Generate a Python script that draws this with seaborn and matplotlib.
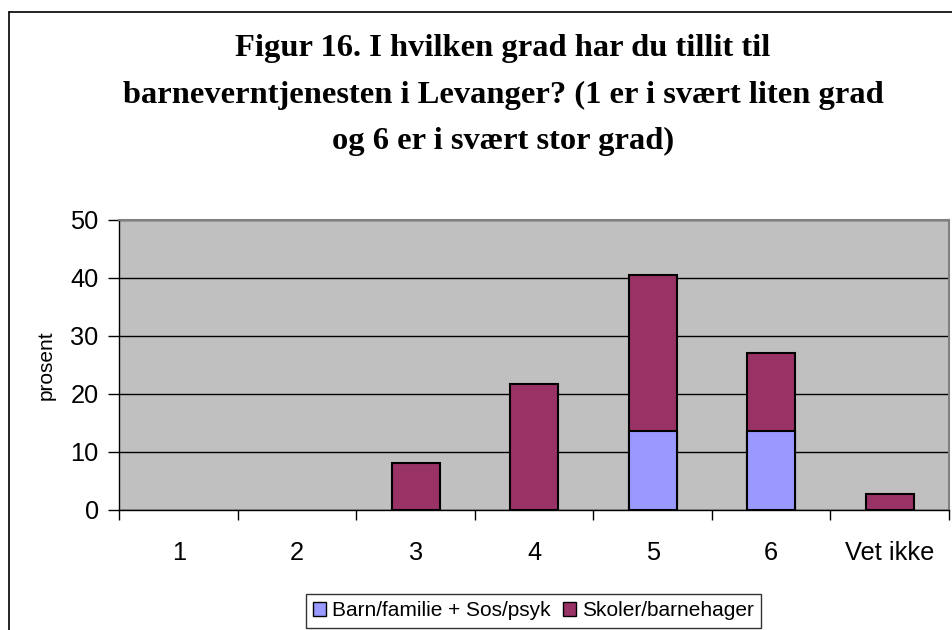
import matplotlib
matplotlib.use('Agg')
import matplotlib.pyplot as plt
from matplotlib.patches import Patch
from matplotlib.lines import Line2D
import seaborn as sns
import numpy as np

# Data
categories = ['1', '2', '3', '4', '5', '6', 'Vet ikke']
barn_familie = [0, 0, 0, 0, 13.5, 13.5, 0]
skoler = [0, 0, 8.1, 21.6, 27.0, 13.5, 2.7]
series_names = ['Barn/familie + Sos/psyk', 'Skoler/barnehager']
title = ('Figur 16. I hvilken grad har du tillit til\n'
         'barneverntjenesten i Levanger? (1 er i svært liten grad\n'
         'og 6 er i svært stor grad)')

blue = '#9999FF'
red = '#993366'

sns.set_style('white')
plt.rcParams['font.family'] = ['Liberation Sans', 'DejaVu Sans']
plt.rcParams['text.color'] = 'black'
plt.rcParams['xtick.color'] = 'black'
plt.rcParams['ytick.color'] = 'black'

fig = plt.figure(figsize=(9.53, 6.3), dpi=100)
ax = fig.add_axes([119.5 / 953, 1 - 509.5 / 630, (949 - 119.5) / 953, 290 / 630])
ax.set_facecolor('#C0C0C0')

totals = np.array(barn_familie) + np.array(skoler)
sns.barplot(x=categories, y=totals, order=categories, color=red, width=0.405,
            edgecolor='black', linewidth=1.5, saturation=1, ax=ax, zorder=3)
sns.barplot(x=categories, y=barn_familie, order=categories, color=blue, width=0.405,
            edgecolor='black', linewidth=1.5, saturation=1, ax=ax, zorder=4)

# empty categories should not leave an outline on the axis
for bar in ax.patches:
    if bar.get_height() == 0:
        bar.set_visible(False)

ax.set_xlim(-0.5, len(categories) - 0.5)
ax.set_ylim(0, 50)
ax.set_yticks([0, 10, 20, 30, 40, 50])
ax.yaxis.grid(True, color='black', linewidth=1)
ax.set_axisbelow(True)

# labels in the middle of each category, ticks between categories
ax.set_xticks(range(len(categories)))
ax.set_xticklabels(categories)
ax.set_xticks(np.arange(-0.5, len(categories), 1), minor=True)
ax.tick_params(axis='x', which='major', length=0, pad=23, labelsize=18.3)
ax.tick_params(axis='x', which='minor', length=7, width=1, color='black', direction='out', bottom=True)
ax.tick_params(axis='y', length=8, width=1, color='black', direction='out', left=True, pad=7, labelsize=18.3)
ax.set_xlabel('')
ax.set_ylabel('')

for side in ['left', 'bottom']:
    ax.spines[side].set_color('black')
    ax.spines[side].set_linewidth(1)
for side in ['top', 'right']:
    ax.spines[side].set_color('#808080')
    ax.spines[side].set_linewidth(1.5)

fig.text(46 / 953, 1 - 365 / 630, 'prosent', rotation=90, ha='center', va='center', fontsize=15)

fig.text(503 / 953, 1 - 95 / 630, title, ha='center', va='center', fontsize=23.4,
         fontweight='bold', family=['Liberation Serif', 'DejaVu Serif'], linespacing=1.8)

handles = [Patch(facecolor=blue, edgecolor='black', linewidth=1),
           Patch(facecolor=red, edgecolor='black', linewidth=1)]
leg = fig.legend(handles, series_names, loc='upper center',
                 bbox_to_anchor=(533.5 / 953, 1 - 594 / 630), ncol=2, frameon=True,
                 fancybox=False, edgecolor='black', fontsize=15, handlelength=0.6,
                 handleheight=0.6, columnspacing=0.6, handletextpad=0.3, borderpad=0.35,
                 borderaxespad=0)
leg.get_frame().set_linewidth(1)

# outer chart frame (right and bottom edges fall outside the picture)
fig.add_artist(Line2D([9.5 / 953, 9.5 / 953], [0, 1 - 12 / 630], color='black', linewidth=1.2))
fig.add_artist(Line2D([9.5 / 953, 1], [1 - 12 / 630, 1 - 12 / 630], color='black', linewidth=1.2))

fig.savefig('out.png', dpi=100, facecolor='white')
